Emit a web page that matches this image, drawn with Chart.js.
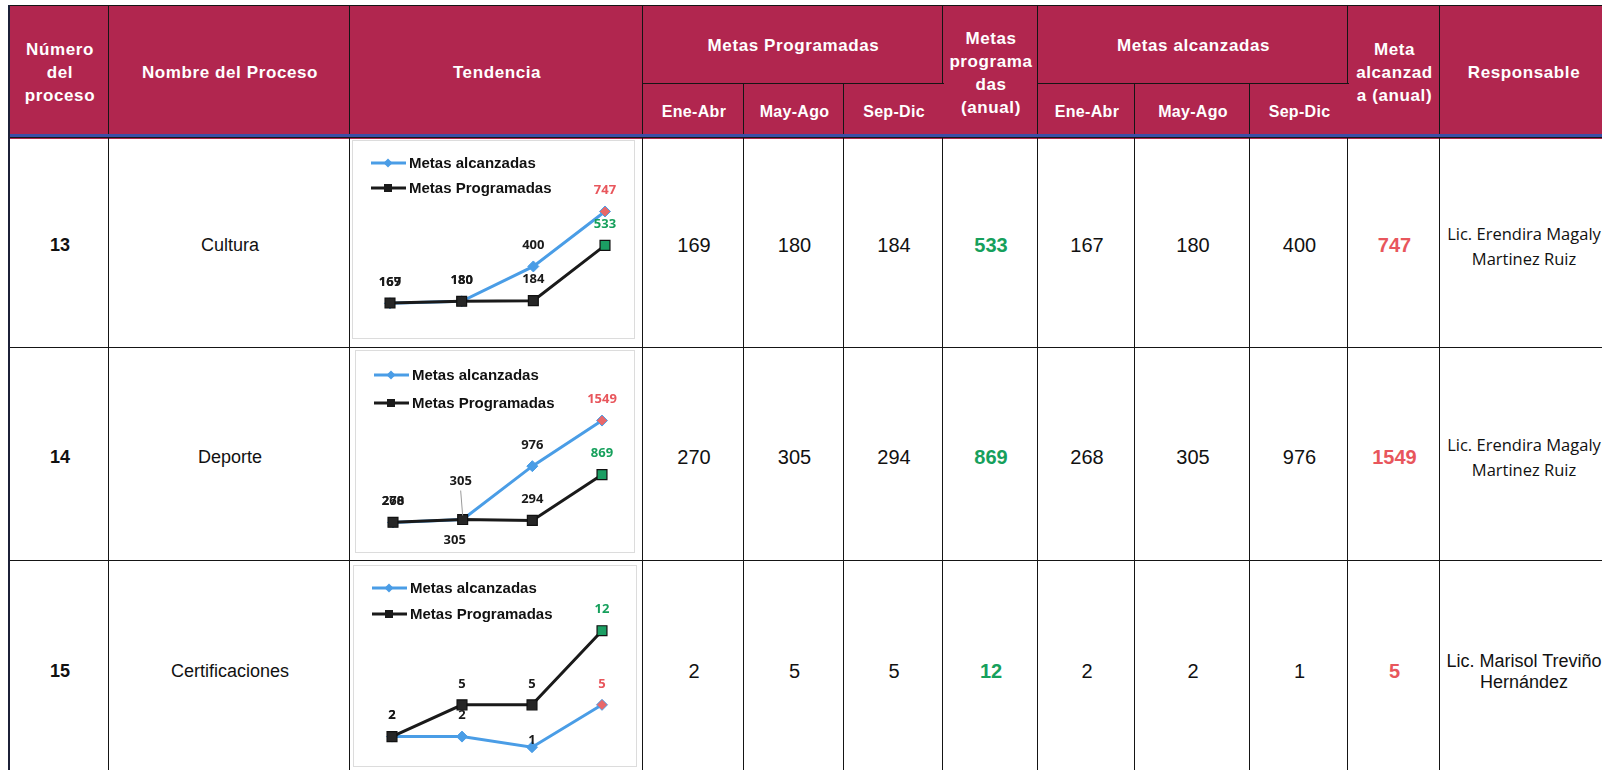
<!DOCTYPE html>
<html>
<head>
<meta charset="utf-8">
<script src="https://cdn.jsdelivr.net/npm/chart.js@4.4.1/dist/chart.umd.min.js"></script>
<style>
  body {
    margin: 0;
    width: 1602px;
    height: 770px;
    overflow: hidden;
    position: relative;
    background: #fff;
    font-family: "Liberation Sans", Arial, sans-serif;
  }
  .cell {
    position: absolute;
    box-sizing: border-box;
    display: flex;
    align-items: center;
    justify-content: center;
    text-align: center;
    border-left: 1.5px solid #151515;
    border-top: 1.5px solid #151515;
    color: #111;
  }
  .head {
    background: #b1264f;
    color: #fff;
    font-weight: bold;
    font-size: 17px;
    letter-spacing: 0.6px;
    line-height: 23px;
  }
  .sub { font-size: 16px; letter-spacing: 0.3px; }
  .body { padding-top: 4px; font-size: 20px; }
  .num { font-weight: bold; font-size: 18px; }
  .name { font-size: 18px; }
  .green { color: #16a05c; font-weight: bold; }
  .red { color: #e8565c; font-weight: bold; }
  .resp { font-family: "Open Sans", sans-serif; font-size: 16.5px; line-height: 25px; }
  .resp2 { font-size: 18px; line-height: 21px; }
  .chartbox {
    position: absolute;
    box-sizing: border-box;
    border: 1px solid #dcdcdc;
    background: #fff;
  }
  .chartbox canvas { display: block; }
</style>
</head>
<body>
<script>
// periodos del eje (ocultos en la grafica)
const periodos = ["Ene-Abr", "May-Ago", "Sep-Dic", "Anual"];

const numeros = ["13", "14", "15"];
const procesos = ["Cultura", "Deporte", "Certificaciones"];
const responsables = [
  "Lic. Erendira Magaly<br>Martinez Ruiz",
  "Lic. Erendira Magaly<br>Martinez Ruiz",
  "Lic. Marisol Treviño<br>Hernández",
];

const culturaProgramadas = [169, 180, 184, 533];
const culturaAlcanzadas = [167, 180, 400, 747];
const deporteProgramadas = [270, 305, 294, 869];
const deporteAlcanzadas = [268, 305, 976, 1549];
const certifProgramadas = [2, 5, 5, 12];
const certifAlcanzadas = [2, 2, 1, 5];

const programadas = [culturaProgramadas, deporteProgramadas, certifProgramadas];
const alcanzadas = [culturaAlcanzadas, deporteAlcanzadas, certifAlcanzadas];

// ---- table ----
const cols = [9, 108, 349, 642, 743, 843, 942, 1037, 1134, 1249, 1347, 1439, 1606];
const rowsY = [137, 347, 560, 776];

function addCell(x1, y1, x2, y2, html, cls) {
  const d = document.createElement("div");
  d.className = "cell " + cls;
  d.style.left = x1 + "px";
  d.style.top = y1 + "px";
  d.style.width = x2 - x1 + 2 + "px";
  d.style.height = y2 - y1 + 2 + "px";
  d.innerHTML = html;
  document.body.appendChild(d);
  return d;
}

const top0 = 5, subY = 83, headBottom = 137;
addCell(cols[0], top0, cols[1], headBottom, "Número<br>del<br>proceso", "head");
addCell(cols[1], top0, cols[2], headBottom, "Nombre del Proceso", "head");
addCell(cols[2], top0, cols[3], headBottom, "Tendencia", "head");
addCell(cols[3], top0, cols[6], subY, "Metas Programadas", "head");
addCell(cols[6], top0, cols[7], headBottom, "Metas<br>programa<br>das<br>(anual)", "head");
addCell(cols[7], top0, cols[10], subY, "Metas alcanzadas", "head");
addCell(cols[10], top0, cols[11], headBottom, "Meta<br>alcanzad<br>a (anual)", "head");
addCell(cols[11], top0, cols[12], headBottom, "Responsable", "head");
for (let i = 0; i < 3; i++) {
  addCell(cols[3 + i], subY, cols[4 + i], headBottom, periodos[i], "head sub");
  addCell(cols[7 + i], subY, cols[8 + i], headBottom, periodos[i], "head sub");
}
const blue = document.createElement("div");
blue.style.cssText = "position:absolute;left:9px;top:134px;width:1600px;height:3px;background:#3b4ea6;";
document.body.appendChild(blue);

for (let r = 0; r < 3; r++) {
  const y1 = rowsY[r], y2 = rowsY[r + 1];
  addCell(cols[0], y1, cols[1], y2, numeros[r], "body num");
  addCell(cols[1], y1, cols[2], y2, procesos[r], "body name");
  addCell(cols[2], y1, cols[3], y2, "", "body");
  for (let i = 0; i < 3; i++) {
    addCell(cols[3 + i], y1, cols[4 + i], y2, programadas[r][i], "body");
    addCell(cols[7 + i], y1, cols[8 + i], y2, alcanzadas[r][i], "body");
  }
  addCell(cols[6], y1, cols[7], y2, programadas[r][3], "body green");
  addCell(cols[10], y1, cols[11], y2, alcanzadas[r][3], "body red");
  addCell(cols[11], y1, cols[12], y2, responsables[r], r < 2 ? "body resp" : "body resp2");
}
const leftEdge = document.createElement("div");
leftEdge.style.cssText = "position:absolute;left:8px;top:5px;width:2px;height:770px;background:#1c2038;";
document.body.appendChild(leftEdge);

// ---- charts ----
const colorAlc = "#4a9de6";
const colorProg = "#1a1a1a";
const labelColor = "#1a1a1a";
const redColor = "#e8565c";
const greenColor = "#16a05c";

const legendPlugin = {
  id: "miniLegend",
  afterDraw(chart, args, opts) {
    const ctx = chart.ctx;
    ctx.save();
    chart.data.datasets.forEach((ds, i) => {
      const y = opts.rows[i];
      ctx.strokeStyle = ds.borderColor;
      ctx.lineWidth = 3;
      ctx.beginPath();
      ctx.moveTo(18, y);
      ctx.lineTo(53, y);
      ctx.stroke();
      ctx.fillStyle = ds.borderColor;
      ctx.beginPath();
      if (ds.pointStyle === "rectRot") {
        ctx.moveTo(35 - 4.5, y);
        ctx.lineTo(35, y - 4.5);
        ctx.lineTo(35 + 4.5, y);
        ctx.lineTo(35, y + 4.5);
        ctx.closePath();
      } else {
        ctx.rect(31, y - 4, 8, 8);
      }
      ctx.fill();
      ctx.fillStyle = "#111";
      ctx.font = "bold 15px 'Liberation Sans', Arial, sans-serif";
      ctx.textBaseline = "middle";
      ctx.textAlign = "left";
      ctx.fillText(ds.label, 56, y + 1);
    });
    ctx.restore();
  },
};

const pointLabelPlugin = {
  id: "pointLabels",
  afterDatasetsDraw(chart, args, opts) {
    const ctx = chart.ctx;
    ctx.save();
    ctx.font = "bold 13px 'Open Sans', sans-serif";
    ctx.textAlign = "center";
    ctx.textBaseline = "middle";
    chart.data.datasets.forEach((ds, di) => {
      const meta = chart.getDatasetMeta(di);
      meta.data.forEach((pt, i) => {
        const tweak = (opts.tweaks || {})[di + "-" + i] || {};
        const dx = tweak.dx || 0;
        const dy = tweak.dy !== undefined ? tweak.dy : -21;
        const last = i === ds.data.length - 1;
        if (tweak.leader) {
          ctx.strokeStyle = "#9a9a9a";
          ctx.lineWidth = 1;
          ctx.beginPath();
          ctx.moveTo(pt.x + dx, pt.y + dy + 9);
          ctx.lineTo(pt.x, pt.y - 4);
          ctx.stroke();
        }
        ctx.fillStyle = last ? ds.lastLabelColor : labelColor;
        ctx.fillText(ds.data[i], pt.x + dx, pt.y + dy);
      });
    });
    ctx.restore();
  },
};

function makeChart(box, alc, prog, yMax, pad, legendRows, tweaks) {
  const div = document.createElement("div");
  div.className = "chartbox";
  div.style.left = box.x + "px";
  div.style.top = box.y + "px";
  div.style.width = box.w + "px";
  div.style.height = box.h + "px";
  const canvas = document.createElement("canvas");
  canvas.width = box.w - 2;
  canvas.height = box.h - 2;
  div.appendChild(canvas);
  document.body.appendChild(div);

  const n = alc.length;
  return new Chart(canvas, {
    type: "line",
    data: {
      labels: periodos,
      datasets: [
        {
          label: "Metas alcanzadas",
          data: alc,
          borderColor: colorAlc,
          borderWidth: 3,
          pointStyle: "rectRot",
          pointRadius: 5.5,
          pointBackgroundColor: alc.map((v, i) => (i === n - 1 ? "#e8686a" : colorAlc)),
          pointBorderColor: colorAlc,
          pointBorderWidth: 1,
          lastLabelColor: redColor,
          tension: 0,
          clip: false,
          order: 1,
        },
        {
          label: "Metas Programadas",
          data: prog,
          borderColor: colorProg,
          borderWidth: 3,
          pointStyle: "rect",
          pointRadius: 7,
          pointBackgroundColor: prog.map((v, i) => (i === n - 1 ? "#1b9e63" : "#262626")),
          pointBorderColor: "#111",
          pointBorderWidth: 1.2,
          lastLabelColor: greenColor,
          tension: 0,
          clip: false,
          order: 0,
        },
      ],
    },
    options: {
      responsive: false,
      animation: false,
      layout: { padding: pad },
      scales: {
        x: { display: false, offset: false },
        y: { display: false, min: 0, max: yMax },
      },
      plugins: {
        legend: { display: false },
        tooltip: { enabled: false },
        miniLegend: { rows: legendRows },
        pointLabels: { tweaks: tweaks },
      },
    },
    plugins: [legendPlugin, pointLabelPlugin],
  });
}

makeChart(
  { x: 352, y: 140, w: 283, h: 199 },
  culturaAlcanzadas,
  culturaProgramadas,
  1000,
  { left: 37, right: 29, top: 30.4, bottom: 2.6 },
  [22, 47],
  {}
);

makeChart(
  { x: 355, y: 350, w: 280, h: 203 },
  deporteAlcanzadas,
  deporteProgramadas,
  2000,
  { left: 37, right: 32, top: 33.7, bottom: 6.5 },
  [24, 52],
  { "0-1": { dy: -38, dx: -2, leader: true }, "1-1": { dy: 21, dx: -8 } }
);

makeChart(
  { x: 353, y: 565, w: 284, h: 202 },
  certifAlcanzadas,
  certifProgramadas,
  15,
  { left: 38, right: 34, top: 32.9, bottom: 6.6 },
  [22, 48],
  { "0-2": { dy: -7 } }
);
</script>
</body>
</html>
